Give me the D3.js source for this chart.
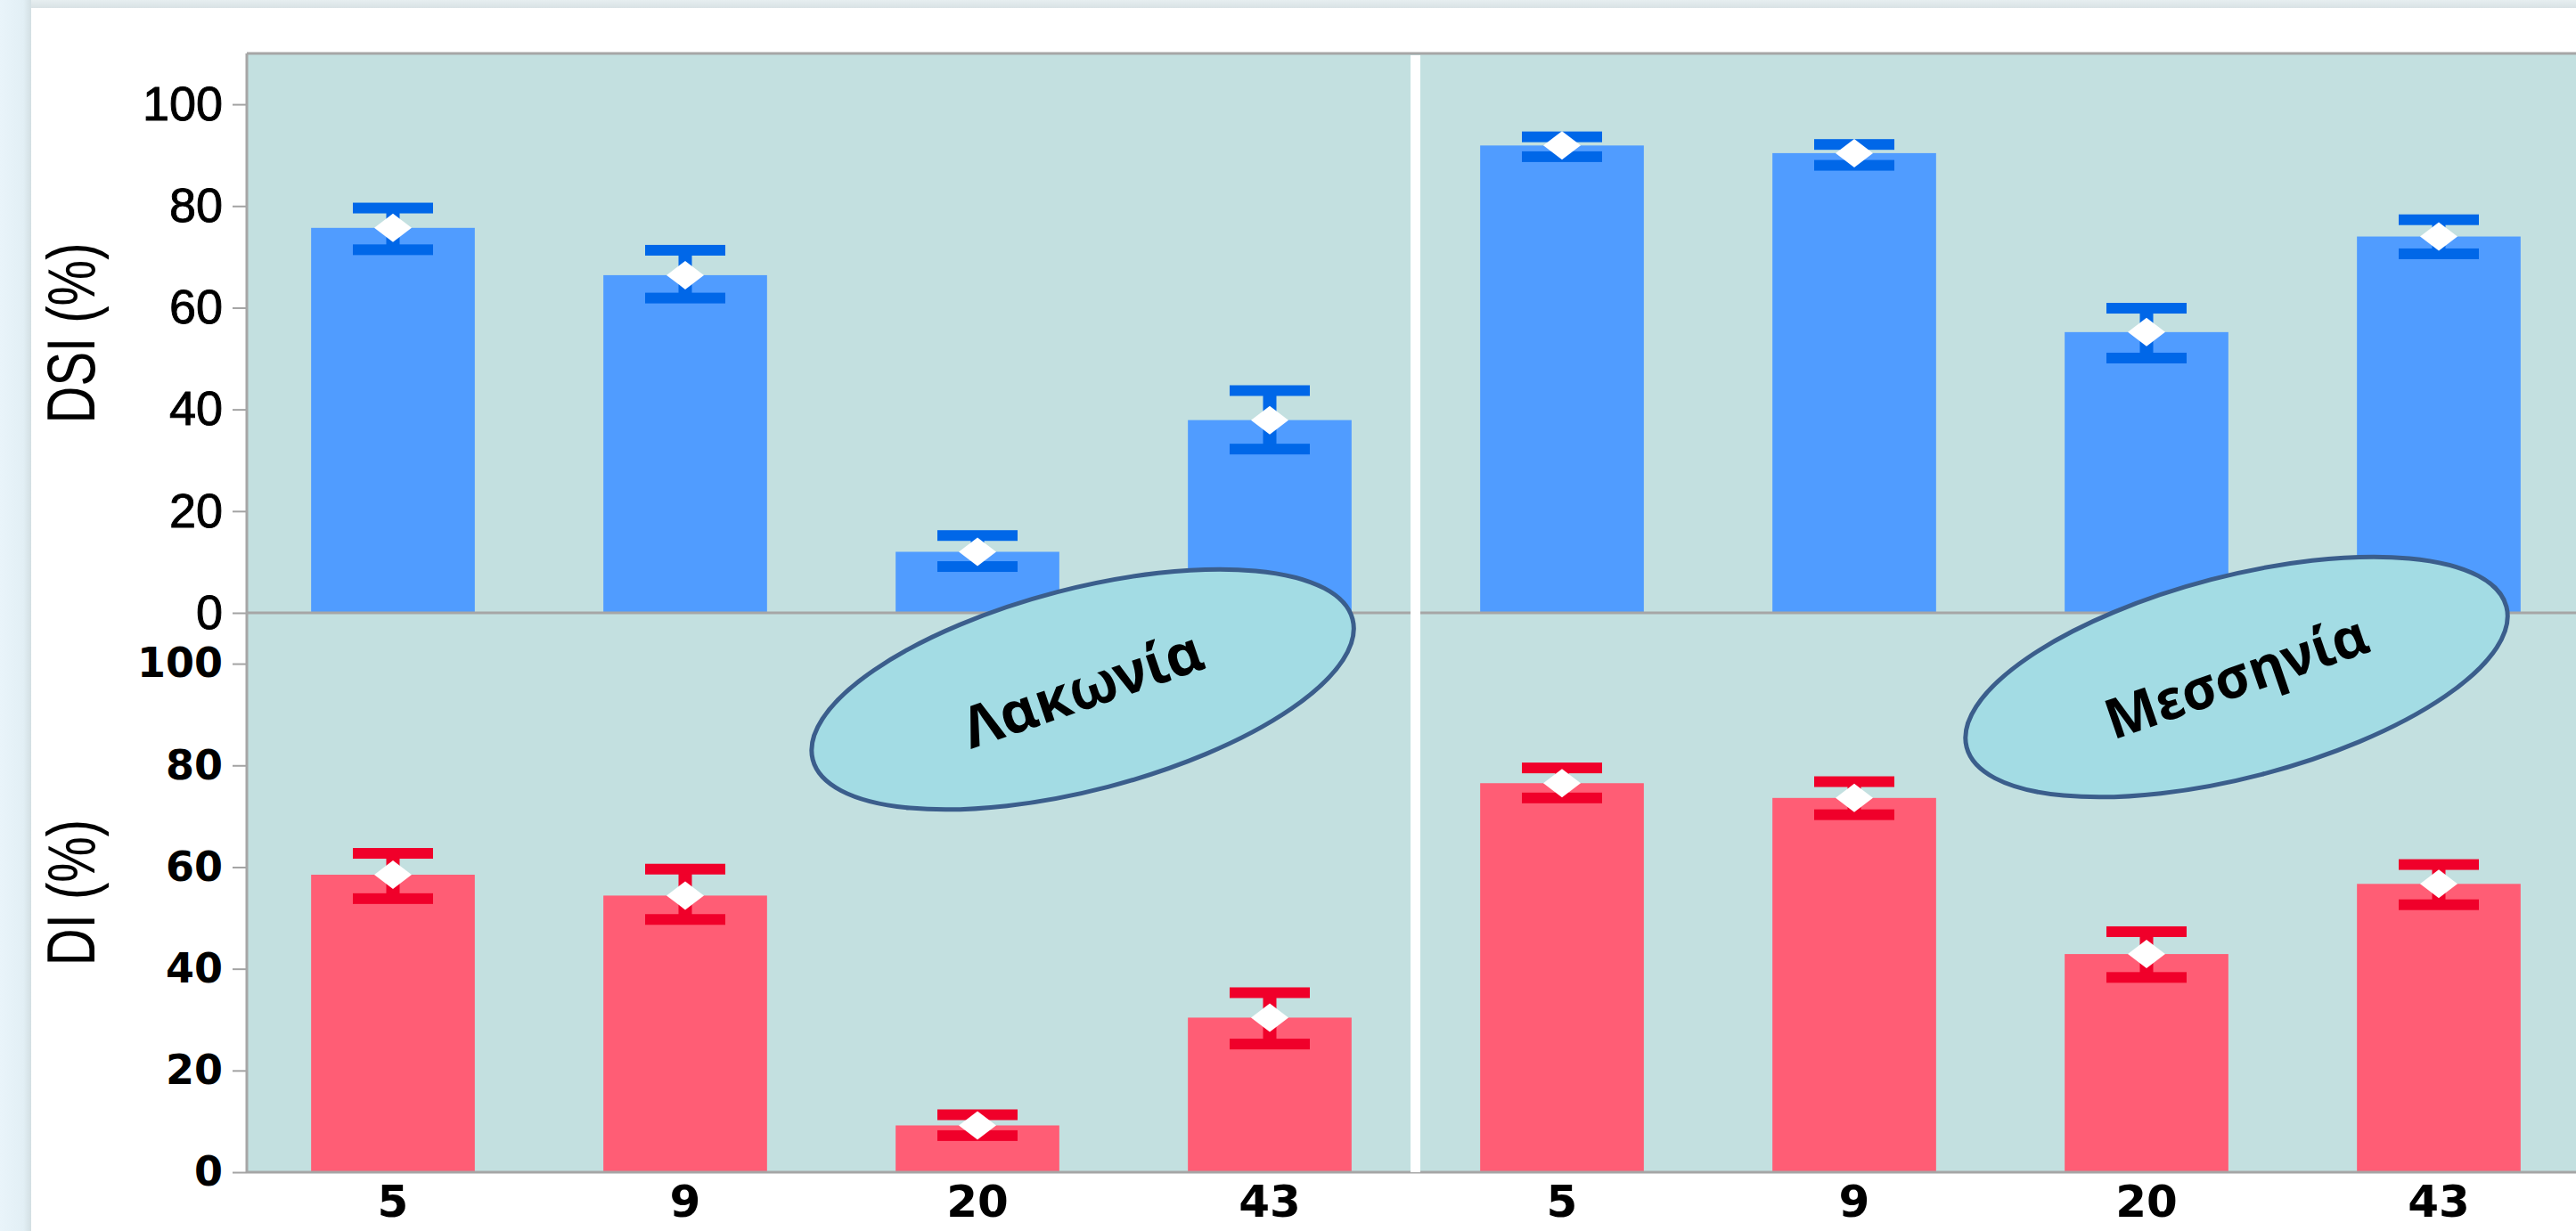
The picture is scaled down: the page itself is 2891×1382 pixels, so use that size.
<!DOCTYPE html>
<html>
<head>
<meta charset="utf-8">
<script src="https://cdn.jsdelivr.net/npm/d3@7"></script>
<style>
  html, body { margin: 0; padding: 0; overflow: hidden; background: #e8f3f8; }
  svg { display: block; }
</style>
</head>
<body>
<div id="chart"></div>
<script>
// data
const regions = ['Λακωνία', 'Μεσσηνία'];
const cats = ['5', '9', '20', '43'];
const rows = ['DSI (%)', 'DI (%)'];
const yTicks = [0, 20, 40, 60, 80, 100];

const dsiLak = [75.7, 66.4, 12.0, 37.9];
const dsiLakLo = [71.4, 61.9, 9.1, 32.2];
const dsiLakHi = [79.6, 71.3, 15.2, 43.7];
const dsiMes = [91.9, 90.4, 55.2, 74.0];
const dsiMesLo = [89.7, 88.0, 50.1, 70.6];
const dsiMesHi = [93.6, 92.1, 59.9, 77.3];

const diLak = [58.5, 54.4, 9.2, 30.4];
const diLakLo = [53.8, 49.7, 7.2, 25.2];
const diLakHi = [62.7, 59.6, 11.3, 35.3];
const diMes = [76.5, 73.6, 42.9, 56.7];
const diMesLo = [73.6, 70.3, 38.3, 52.6];
const diMesHi = [79.5, 76.8, 47.3, 60.5];

// style configs
const width = 2891;
const height = 1382;
const plot = { left: 277, right: 2901, top: 60, bottom: 1316 };
const colors = {
  'DSI (%)': { bar: '#509cff', err: '#0067e8' },
  'DI (%)': { bar: '#ff5d75', err: '#f0002a' }
};
const panelBg = '#c3e0e0';

const series = {
  'DSI (%)': [
    { m: dsiLak, lo: dsiLakLo, hi: dsiLakHi },
    { m: dsiMes, lo: dsiMesLo, hi: dsiMesHi }
  ],
  'DI (%)': [
    { m: diLak, lo: diLakLo, hi: diLakHi },
    { m: diMes, lo: diMesLo, hi: diMesHi }
  ]
};

const svg = d3.select('#chart').append('svg')
  .attr('width', width)
  .attr('height', height);

// page backdrop + white card
const defs = svg.append('defs');
const lg = defs.append('linearGradient').attr('id', 'leftEdge').attr('x1', 0).attr('x2', 1);
lg.append('stop').attr('offset', '0%').attr('stop-color', '#e9f4fa');
lg.append('stop').attr('offset', '75%').attr('stop-color', '#e2eff5');
lg.append('stop').attr('offset', '100%').attr('stop-color', '#d3dfe3');
const tg = defs.append('linearGradient').attr('id', 'topEdge').attr('x1', 0).attr('x2', 0).attr('y1', 0).attr('y2', 1);
tg.append('stop').attr('offset', '0%').attr('stop-color', '#e6eef0');
tg.append('stop').attr('offset', '100%').attr('stop-color', '#d9e2e5');

svg.append('rect').attr('width', width).attr('height', height).attr('fill', '#e8f3f8');
svg.append('rect').attr('width', 35).attr('height', height).attr('fill', 'url(#leftEdge)');
svg.append('rect').attr('x', 35).attr('width', width - 35).attr('height', 9).attr('fill', 'url(#topEdge)');
svg.append('rect').attr('x', 35).attr('y', 9).attr('width', width - 35).attr('height', height - 9).attr('fill', '#fff');

// scales
const fx = d3.scaleBand().domain(regions).range([plot.left, plot.right]);
const xi = d3.scaleBand().domain(cats).range([0, fx.bandwidth()])
  .paddingInner(0.44).paddingOuter(0.22);
const fy = d3.scaleBand().domain(rows).range([plot.top, plot.bottom]);
const y = d3.scaleLinear().domain([0, 110]).range([fy.bandwidth(), 0]);

const capW = 90, capH = 12, stemW = 15;
const diamond = 'M0,-16L21,0L0,16L-21,0Z';

rows.forEach((row, ri) => {
  const g = svg.append('g').attr('transform', `translate(0,${fy(row)})`);

  g.append('rect')
    .attr('x', plot.left).attr('y', 0)
    .attr('width', plot.right - plot.left).attr('height', fy.bandwidth())
    .attr('fill', panelBg);

  regions.forEach((reg, gi) => {
    const s = series[row][gi];
    const d = cats.map((c, i) => ({ c, m: s.m[i], lo: s.lo[i], hi: s.hi[i] }));
    const fg = g.append('g').attr('transform', `translate(${fx(reg)},0)`);
    const cx = v => xi(v) + xi.bandwidth() / 2;

    fg.selectAll('.bar').data(d).enter().append('rect')
      .attr('class', 'bar')
      .attr('x', v => xi(v.c))
      .attr('y', v => y(v.m))
      .attr('width', xi.bandwidth())
      .attr('height', v => y(0) - y(v.m))
      .attr('fill', colors[row].bar);

    fg.selectAll('.stem').data(d).enter().append('rect')
      .attr('class', 'stem')
      .attr('x', v => cx(v.c) - stemW / 2)
      .attr('y', v => y(v.hi))
      .attr('width', stemW)
      .attr('height', v => y(v.lo) - y(v.hi))
      .attr('fill', colors[row].err);

    ['hi', 'lo'].forEach(k => {
      fg.selectAll('.cap-' + k).data(d).enter().append('rect')
        .attr('class', 'cap-' + k)
        .attr('x', v => cx(v.c) - capW / 2)
        .attr('y', v => y(v[k]) - capH / 2)
        .attr('width', capW)
        .attr('height', capH)
        .attr('fill', colors[row].err);
    });

    fg.selectAll('.mean').data(d).enter().append('path')
      .attr('class', 'mean')
      .attr('d', diamond)
      .attr('transform', v => `translate(${cx(v.c)},${y(v.m)})`)
      .attr('fill', '#fff');
  });

  // y axis
  const ax = g.append('g')
    .attr('transform', `translate(${plot.left},0)`)
    .call(d3.axisLeft(y).tickValues(yTicks).tickSize(16).tickPadding(11));
  ax.select('.domain').remove();
  ax.selectAll('.tick line').attr('stroke', '#a3a3a3').attr('stroke-width', 2);
  ax.selectAll('.tick text')
    .attr('fill', '#000')
    .attr('stroke', ri === 0 ? '#000' : 'none')
    .attr('stroke-width', 0.9)
    .style('font-family', ri === 0 ? '"Liberation Sans", Arial, sans-serif' : '"DejaVu Sans", Verdana, sans-serif')
    .style('font-weight', ri === 0 ? 'normal' : 'bold')
    .style('font-size', ri === 0 ? '54px' : '46px');

  // axis title (a little stretched, like the picture)
  g.append('text')
    .attr('transform', `translate(106,${fy.bandwidth() / 2}) rotate(-90) scale(1,1.3)`)
    .attr('text-anchor', 'middle')
    .style('font-family', '"Liberation Sans", Arial, sans-serif')
    .style('font-size', '58px')
    .attr('fill', '#000')
    .text(row);
});

// frame lines
const frame = svg.append('g').attr('stroke', '#a6a6a6').attr('stroke-width', 3);
frame.append('line').attr('x1', plot.left).attr('x2', plot.right).attr('y1', plot.top).attr('y2', plot.top);
frame.append('line').attr('x1', plot.left).attr('x2', plot.right).attr('y1', fy(rows[1])).attr('y2', fy(rows[1]));
frame.append('line').attr('x1', plot.left).attr('x2', plot.right).attr('y1', plot.bottom).attr('y2', plot.bottom);
frame.append('line').attr('x1', plot.left).attr('x2', plot.left).attr('y1', plot.top).attr('y2', plot.bottom);

// white divider between the two regions
svg.append('rect')
  .attr('x', fx(regions[1]) - 6).attr('y', plot.top + 2)
  .attr('width', 11).attr('height', plot.bottom - plot.top - 2)
  .attr('fill', '#fff');

// x labels
regions.forEach(reg => {
  svg.append('g').selectAll('text').data(cats).enter().append('text')
    .attr('x', c => fx(reg) + xi(c) + xi.bandwidth() / 2)
    .attr('y', 1366)
    .attr('text-anchor', 'middle')
    .style('font-family', '"DejaVu Sans", Verdana, sans-serif')
    .style('font-weight', 'bold')
    .style('font-size', '50px')
    .text(c => c);
});

// region callouts
const callout = [
  { label: regions[0], at: 0.715, cy: 774, size: 64 },
  { label: regions[1], at: 0.702, cy: 760, size: 62 }
];
callout.forEach(o => {
  const cx = fx(o.label) + o.at * fx.bandwidth();
  const cg = svg.append('g').attr('transform', `translate(${cx},${o.cy})`);
  cg.append('ellipse')
    .attr('rx', 313).attr('ry', 113)
    .attr('transform', 'rotate(-14.6)')
    .attr('fill', '#a3dce4')
    .attr('stroke', '#3b5e8c')
    .attr('stroke-width', 5);
  cg.append('text')
    .attr('transform', 'rotate(-19)')
    .attr('text-anchor', 'middle')
    .attr('dy', '0.35em')
    .style('font-family', '"Noto Sans", "Open Sans", sans-serif')
    .style('font-weight', 'bold')
    .style('font-size', o.size + 'px')
    .attr('fill', '#000')
    .text(o.label);
});
</script>
</body>
</html>
